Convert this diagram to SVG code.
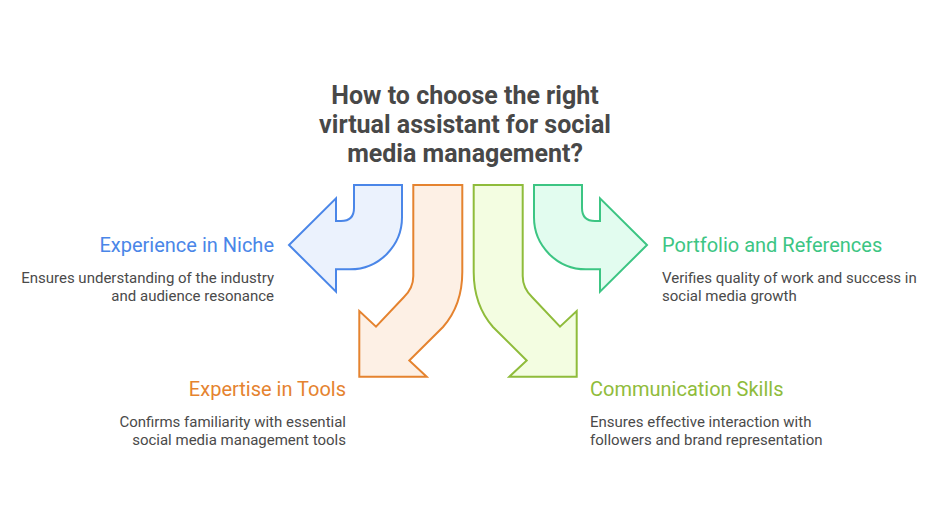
<svg xmlns="http://www.w3.org/2000/svg" width="936" height="527" viewBox="0 0 936 527">
<style>
.t{font-family:Roboto,"Liberation Sans",sans-serif;}
.title{font-size:25px;font-weight:bold;fill:#484848;text-anchor:middle;}
.h{font-size:20px;}
.d{font-size:15px;fill:#4a4a4a;}
.r{text-anchor:end;}
.a{stroke-width:2;stroke-linejoin:miter;}
</style>
<defs>
<path id="curl" d="M402,185 H354 V208 Q354,221 341,221 H336 V198.3 L289,245 L336,291.7 V269.3 H350 A52,52 0 0 0 402,217 Z"/>
<path id="bend" d="M413.3,185 H462.3 V272 Q462.3,305 443,327 L409.3,360.5 L426.7,376.7 H359.3 V311 L376,326.7 L404,297 Q413.3,288 413.3,276 Z"/>
</defs>
<rect width="936" height="527" fill="#ffffff"/>
<g id="title" class="t">
<text class="title" x="465" y="104">How to choose the right</text>
<text class="title" x="465" y="133">virtual assistant for social</text>
<text class="title" x="465" y="162">media management?</text>
</g>
<g id="connectors">
<use href="#curl" class="a" fill="#ebf2fd" stroke="#4a86e8"/>
<use href="#bend" class="a" fill="#fdf0e5" stroke="#e5832f"/>
<use href="#bend" class="a" fill="#f3fde1" stroke="#8fbc3b" transform="translate(936,0) scale(-1,1)"/>
<use href="#curl" class="a" fill="#e2fcef" stroke="#3cc583" transform="translate(936,0) scale(-1,1)"/>
</g>
<g id="niche" class="t">
<text class="h r" x="274" y="251.5" fill="#4a86e8">Experience in Niche</text>
<text class="d r" x="274" y="282.5">Ensures understanding of the industry</text>
<text class="d r" x="274" y="300.5">and audience resonance</text>
</g>
<g id="portfolio" class="t">
<text class="h" x="662" y="251.5" fill="#3cc583">Portfolio and References</text>
<text class="d" x="662" y="282.5">Verifies quality of work and success in</text>
<text class="d" x="662" y="300.5">social media growth</text>
</g>
<g id="tools" class="t">
<text class="h r" x="346" y="396" fill="#e5832f">Expertise in Tools</text>
<text class="d r" x="346" y="426.5">Confirms familiarity with essential</text>
<text class="d r" x="346" y="444.5">social media management tools</text>
</g>
<g id="communication" class="t">
<text class="h" x="590" y="396" fill="#8fbc3b">Communication Skills</text>
<text class="d" x="590" y="426.5">Ensures effective interaction with</text>
<text class="d" x="590" y="444.5">followers and brand representation</text>
</g>
</svg>
